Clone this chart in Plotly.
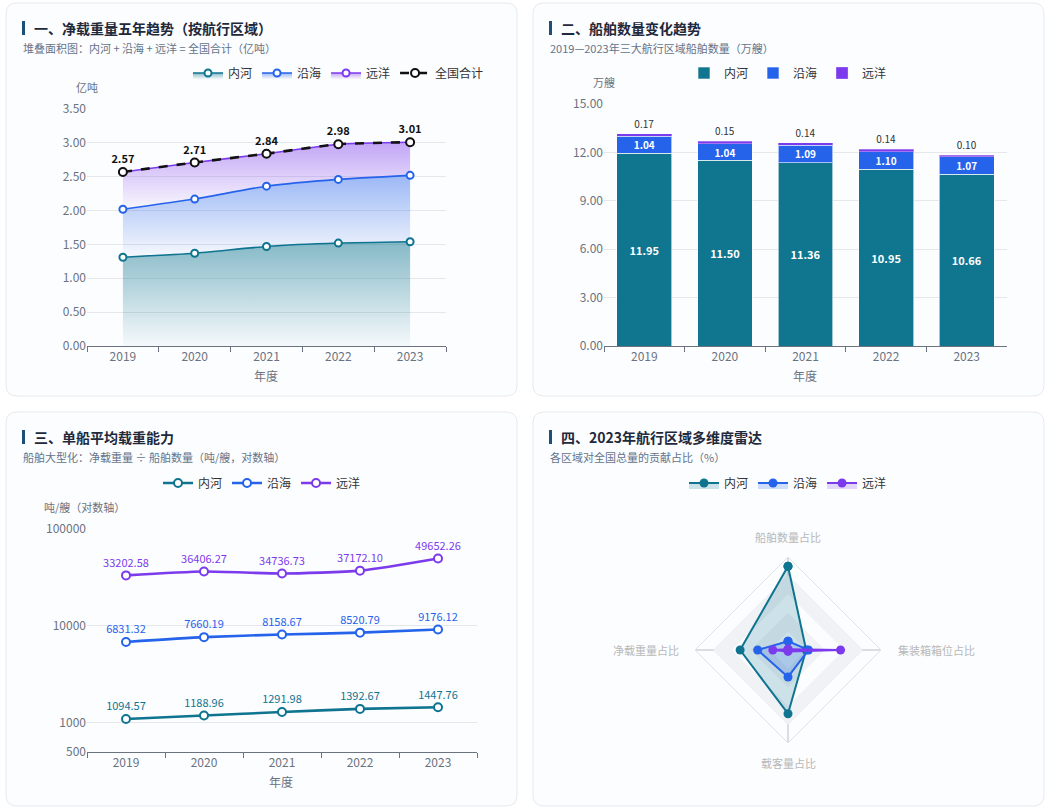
import plotly.graph_objects as go

W, H = 1051, 811
FONT = "Noto Sans CJK SC, Noto Sans, sans-serif"

# ---------------- DATA ----------------
years = ['2019', '2020', '2021', '2022', '2023']
region_names = ['内河', '沿海', '远洋']
total_name = '全国合计'

# 1. 净载重量 (亿吨)
tonnage_inland = [1.31, 1.37, 1.47, 1.52, 1.54]
tonnage_coastal = [0.71, 0.80, 0.89, 0.94, 0.98]
tonnage_ocean = [0.55, 0.54, 0.48, 0.52, 0.49]
tonnage_total = [2.57, 2.71, 2.84, 2.98, 3.01]

# 2. 船舶数量 (万艘)
ships_inland = [11.95, 11.50, 11.36, 10.95, 10.66]
ships_coastal = [1.04, 1.04, 1.09, 1.10, 1.07]
ships_ocean = [0.17, 0.15, 0.14, 0.14, 0.10]

# 3. 单船平均载重 (吨/艘)
avg_inland = [1094.57, 1188.96, 1291.98, 1392.67, 1447.76]
avg_coastal = [6831.32, 7660.19, 8158.67, 8520.79, 9176.12]
avg_ocean = [33202.58, 36406.27, 34736.73, 37172.10, 49652.26]
log_ticks = [500, 1000, 10000, 100000]

# 4. 雷达 (%)
radar_dims = ['船舶数量占比', '净载重量占比', '载客量占比', '集装箱箱位占比']
radar_inland = [90.1, 51.5, 68.5, 19.5]
radar_coastal = [9.5, 32.6, 29.0, 22.0]
radar_ocean = [0.8, 16.3, 1.5, 56.5]
radar_rings = [20, 40, 60, 80, 100]

# ---------------- STYLE ----------------
C_IN = '#0e7490'
C_CO = '#2563eb'
C_OC = '#7c3aed'
C_TOT = '#111111'
GRID = '#e5e7eb'
TICK = '#6b7280'
CARD_BG = '#fcfdfe'


def px(x):
    return x / W


def py(y):
    return 1 - y / H


def rounded_path(x0, y0, x1, y1, r=11):
    rx, ry = r / W, r / H
    X0, X1 = px(x0), px(x1)
    Y0, Y1 = py(y0), py(y1)  # Y0 top (larger)
    return (f"M {X0+rx},{Y0} L {X1-rx},{Y0} Q {X1},{Y0} {X1},{Y0-ry} "
            f"L {X1},{Y1+ry} Q {X1},{Y1} {X1-rx},{Y1} L {X0+rx},{Y1} "
            f"Q {X0},{Y1} {X0},{Y1+ry} L {X0},{Y0-ry} Q {X0},{Y0} {X0+rx},{Y0} Z")


def hex_rgba(h, a):
    h = h.lstrip('#')
    return f"rgba({int(h[0:2],16)},{int(h[2:4],16)},{int(h[4:6],16)},{a})"


fig = go.Figure()

# ---------- Chart 1: stacked area ----------
for name, vals, col, top_a in [('内河', tonnage_inland, C_IN, 0.50),
                               ('沿海', tonnage_coastal, C_CO, 0.45),
                               ('远洋', tonnage_ocean, C_OC, 0.45)]:
    fig.add_trace(go.Scatter(
        x=years, y=vals, name=name, stackgroup='one', mode='lines+markers',
        line=dict(color=col, width=1.6, shape='spline', smoothing=0.5),
        marker=dict(size=7, color='white', line=dict(color=col, width=2)),
        fill='tonexty',
        fillgradient=dict(type='vertical',
                          colorscale=[[0, hex_rgba(col, 0.03)], [1, hex_rgba(col, top_a)]]),
        xaxis='x', yaxis='y', legend='legend', hoverinfo='skip'))

fig.add_trace(go.Scatter(
    x=years, y=tonnage_total, name=total_name, mode='lines+markers+text',
    line=dict(color=C_TOT, width=2.6, dash='dash', shape='spline', smoothing=0.5),
    marker=dict(size=8, color='white', line=dict(color=C_TOT, width=2)),
    text=[f"<b>{v:.2f}</b>" for v in tonnage_total], textposition='top center',
    textfont=dict(size=11, color='#111', family=FONT),
    xaxis='x', yaxis='y', legend='legend', hoverinfo='skip'))

# ---------- Chart 2: stacked bars ----------
fig.add_trace(go.Bar(
    x=years, y=ships_inland, name='内河', marker=dict(color='#10768f', line=dict(color='rgba(255,255,255,0.6)', width=1)),
    text=[f"<b>{v:.2f}</b>" for v in ships_inland], textposition='inside', insidetextanchor='middle',
    textangle=0, constraintext='none', textfont=dict(color='white', size=11, family=FONT),
    xaxis='x2', yaxis='y2', legend='legend2', hoverinfo='skip'))
fig.add_trace(go.Bar(
    x=years, y=ships_coastal, name='沿海', marker=dict(color=C_CO, line=dict(color='rgba(255,255,255,0.6)', width=1)),
    text=[f"<b>{v:.2f}</b>" for v in ships_coastal], textposition='inside', insidetextanchor='middle',
    textangle=0, constraintext='none', textfont=dict(color='white', size=10, family=FONT),
    xaxis='x2', yaxis='y2', legend='legend2', hoverinfo='skip'))
fig.add_trace(go.Bar(
    x=years, y=ships_ocean, name='远洋', marker=dict(color=C_OC, line=dict(color='rgba(255,255,255,0.6)', width=0.5)),
    text=[f"{v:.2f}" for v in ships_ocean], textposition='outside', cliponaxis=False,
    textangle=0, constraintext='none', textfont=dict(color='#333', size=10, family=FONT),
    xaxis='x2', yaxis='y2', legend='legend2', hoverinfo='skip'))

# ---------- Chart 3: log lines ----------
for name, vals, col in [('内河', avg_inland, C_IN), ('沿海', avg_coastal, C_CO), ('远洋', avg_ocean, C_OC)]:
    fig.add_trace(go.Scatter(
        x=years, y=vals, name=name, mode='lines+markers+text',
        line=dict(color=col, width=2.6, shape='spline', smoothing=0.6),
        marker=dict(size=8, color='white', line=dict(color=col, width=2)),
        text=[f"{v:.2f}" for v in vals], textposition='top center',
        textfont=dict(size=11, color=col, family=FONT), cliponaxis=False,
        xaxis='x3', yaxis='y3', legend='legend3', hoverinfo='skip'))

# ---------- Chart 4: radar ----------
theta_closed = radar_dims + radar_dims[:1]
for rv in sorted(radar_rings[:-1], reverse=True):
    fig.add_trace(go.Scatterpolar(
        r=[rv] * len(theta_closed), theta=theta_closed, mode='lines',
        line=dict(width=0, color='rgba(0,0,0,0)'), fill='toself',
        fillcolor='#f0f2f6' if radar_rings.index(rv) % 2 == 1 else CARD_BG,
        showlegend=False, hoverinfo='skip', subplot='polar'))

for name, vals, col in [('内河', radar_inland, C_IN), ('沿海', radar_coastal, C_CO), ('远洋', radar_ocean, C_OC)]:
    fig.add_trace(go.Scatterpolar(
        r=vals + vals[:1], theta=theta_closed, name=name, mode='lines+markers',
        line=dict(color=col, width=2), marker=dict(size=9, color=col),
        fill='toself', fillcolor=hex_rgba(col, 0.2),
        subplot='polar', legend='legend4', hoverinfo='skip'))

# ---------- Layout ----------
shapes = []
cards = [(6, 3, 517, 396), (533, 3, 1044, 396), (6, 412, 517, 806), (533, 412, 1044, 806)]
for c in cards:
    shapes.append(dict(type='path', path=rounded_path(*c), xref='paper', yref='paper',
                       fillcolor=CARD_BG, line=dict(color='#e6e9ef', width=1), layer='below'))
for (bx, by) in [(22, 21), (549, 21), (22, 430), (549, 430)]:
    shapes.append(dict(type='rect', xref='paper', yref='paper', x0=px(bx), x1=px(bx + 3),
                       y0=py(by), y1=py(by + 14), fillcolor='#1f4e79', line=dict(width=0), layer='above'))

annotations = []


def ann(text, x, y, size=11, color='#64748b', xanchor='left', bold=False):
    annotations.append(dict(text=f"<b>{text}</b>" if bold else text, x=px(x), y=py(y), xref='paper', yref='paper',
                            xanchor=xanchor, yanchor='middle', showarrow=False,
                            font=dict(size=size, color=color, family=FONT)))


ann('一、净载重量五年趋势（按航行区域）', 32, 28, size=14, color='#1e293b', bold=True)
ann('堆叠面积图：内河 + 沿海 + 远洋 = 全国合计（亿吨）', 21, 48, size=11)
ann('二、船舶数量变化趋势', 559, 28, size=14, color='#1e293b', bold=True)
ann('2019—2023年三大航行区域船舶数量（万艘）', 548, 48, size=11)
ann('三、单船平均载重能力', 32, 437, size=14, color='#1e293b', bold=True)
ann('船舶大型化：净载重量 ÷ 船舶数量（吨/艘，对数轴）', 21, 457, size=11)
ann('四、2023年航行区域多维度雷达', 559, 437, size=14, color='#1e293b', bold=True)
ann('各区域对全国总量的贡献占比（%）', 548, 457, size=11)

# axis names
ann('亿吨', 87, 87, size=11, color=TICK, xanchor='center')
ann('年度', 266, 375, size=12, color=TICK, xanchor='center')
ann('万艘', 604, 82, size=11, color=TICK, xanchor='center')
ann('年度', 805, 375, size=12, color=TICK, xanchor='center')
ann('吨/艘（对数轴）', 84, 507, size=11, color=TICK, xanchor='center')
ann('年度', 281, 781, size=12, color=TICK, xanchor='center')

# radar indicator names
RL = '#b8b8b8'
ann(radar_dims[0], 788, 537, size=11, color=RL, xanchor='center')
ann(radar_dims[1], 681, 650, size=11, color=RL, xanchor='right')
ann(radar_dims[2], 788, 763, size=11, color=RL, xanchor='center')
ann(radar_dims[3], 896, 650, size=11, color=RL, xanchor='left')

xcat = dict(type='category', range=[-0.5, 4.5], tickson='boundaries', ticks='outside', ticklen=5,
            tickcolor='#6b7280', showline=True, linecolor='#6b7280', linewidth=1, showgrid=False,
            tickfont=dict(size=12, color=TICK, family=FONT), fixedrange=True, zeroline=False)
yval = dict(showline=False, gridcolor=GRID, zeroline=False, ticks='', tickfont=dict(size=12, color=TICK, family=FONT))

leg_common = dict(orientation='h', bgcolor='rgba(0,0,0,0)', font=dict(size=12, color='#333', family=FONT),
                  yanchor='middle', itemwidth=30, tracegroupgap=0, traceorder='normal')

fig.update_layout(
    width=W, height=H, margin=dict(l=0, r=0, t=0, b=0, pad=0, autoexpand=False),
    paper_bgcolor='#ffffff', plot_bgcolor='rgba(0,0,0,0)',
    font=dict(family=FONT),
    barmode='stack', bargap=0.32,
    showlegend=True,
    shapes=shapes, annotations=annotations,
    xaxis=dict(xcat, domain=[px(87), px(446)], anchor='y'),
    yaxis=dict(yval, domain=[py(346), py(109)], range=[0, 3.5], dtick=0.5, tickformat='.2f', anchor='x'),
    xaxis2=dict(xcat, domain=[px(604), px(1007)], anchor='y2'),
    yaxis2=dict(yval, domain=[py(346), py(104)], range=[0, 15], dtick=3, tickformat='.2f', anchor='x2'),
    xaxis3=dict(xcat, domain=[px(87), px(477)], anchor='y3'),
    yaxis3=dict(yval, type='log', domain=[py(752), py(529)], range=[2.69897, 5.0],
                tickvals=log_ticks, ticktext=[str(v) for v in log_ticks], anchor='x3'),
    polar=dict(
        domain=dict(x=[px(788 - 93), px(788 + 93)], y=[py(650 + 93), py(650 - 93)]),
        bgcolor='rgba(0,0,0,0)', gridshape='linear',
        radialaxis=dict(range=[0, 100], tickvals=radar_rings[:-1], showticklabels=False, ticks='',
                        showline=False, gridcolor='#e2e6ec', layer='above traces'),
        angularaxis=dict(rotation=90, direction='counterclockwise', showline=True, linecolor='#dfe3e9',
                         gridcolor='#b8bcc4', ticks='', layer='above traces', showticklabels=False),
    ),
    legend=dict(leg_common, x=px(489), xanchor='right', y=py(73)),
    legend2=dict(leg_common, x=px(788), xanchor='center', y=py(73)),
    legend3=dict(leg_common, x=px(262), xanchor='center', y=py(483)),
    legend4=dict(leg_common, x=px(788), xanchor='center', y=py(483)),
)

fig.write_html('out.html', config={'displayModeBar': False},
               post_script="document.body.style.margin='0';document.body.style.overflow='hidden';")
